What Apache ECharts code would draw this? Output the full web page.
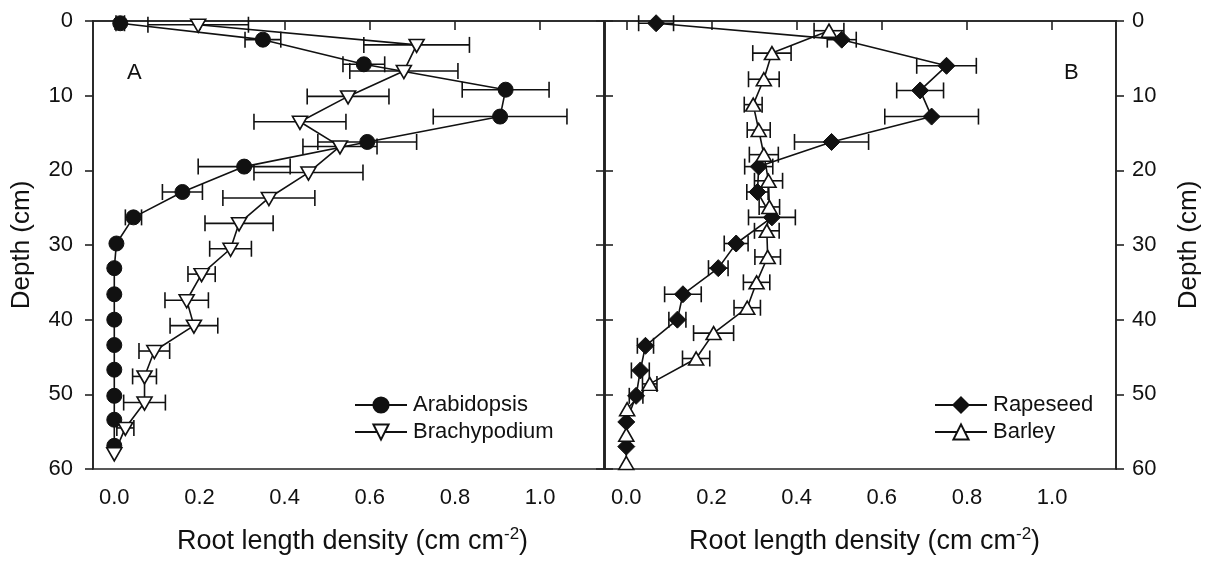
<!DOCTYPE html>
<html>
<head>
<meta charset="utf-8">
<script src="https://cdn.jsdelivr.net/npm/echarts@6/dist/echarts.min.js"></script>
<style>html,body{margin:0;padding:0;background:#fff}#c{width:1212px;height:561px}</style>
</head>
<body>
<div id="c"></div>
<script>
// ---- data ----
const xTicks = [0, 0.2, 0.4, 0.6, 0.8, 1.0];
const yTicks = [0, 10, 20, 30, 40, 50, 60];

const arabDepth = [0.3, 2.5, 5.8, 9.2, 12.8, 16.2, 19.5, 22.9, 26.3, 29.8, 33.1, 36.6, 40.0, 43.4, 46.7, 50.2, 53.4, 56.9];
const arabMean  = [0.014, 0.349, 0.586, 0.919, 0.906, 0.594, 0.305, 0.160, 0.045, 0.005, 0, 0, 0, 0, 0, 0, 0, 0];
const arabErr   = [0.01, 0.042, 0.049, 0.102, 0.157, 0.116, 0.108, 0.047, 0.019, 0, 0, 0, 0, 0, 0, 0, 0, 0];

const brachyDepth = [0.5, 3.2, 6.7, 10.1, 13.5, 16.8, 20.3, 23.7, 27.1, 30.5, 33.9, 37.4, 40.8, 44.2, 47.6, 51.1, 54.5, 57.9];
const brachyMean  = [0.197, 0.710, 0.680, 0.549, 0.436, 0.530, 0.456, 0.363, 0.293, 0.273, 0.205, 0.170, 0.187, 0.094, 0.071, 0.071, 0.026, 0.0];
const brachyErr   = [0.118, 0.124, 0.127, 0.096, 0.108, 0.087, 0.128, 0.108, 0.080, 0.049, 0.032, 0.051, 0.056, 0.036, 0.028, 0.049, 0.020, 0];

const rapeDepth = [0.3, 2.5, 6.0, 9.3, 12.8, 16.2, 19.5, 22.9, 26.3, 29.8, 33.1, 36.6, 40.0, 43.5, 46.8, 50.2, 53.7, 57.0];
const rapeMean  = [0.070, 0.506, 0.752, 0.690, 0.717, 0.482, 0.311, 0.308, 0.342, 0.258, 0.216, 0.133, 0.120, 0.045, 0.033, 0.023, 0, 0];
const rapeErr   = [0.041, 0.034, 0.070, 0.055, 0.110, 0.087, 0.033, 0.025, 0.055, 0.028, 0.023, 0.043, 0.020, 0.019, 0.021, 0.016, 0, 0];

const barleyDepth = [1.3, 4.3, 7.8, 11.2, 14.6, 17.9, 21.4, 24.9, 28.1, 31.6, 35.0, 38.4, 41.8, 45.2, 48.6, 52.0, 55.4, 59.2];
const barleyMean  = [0.476, 0.342, 0.323, 0.298, 0.311, 0.323, 0.334, 0.336, 0.330, 0.332, 0.306, 0.284, 0.205, 0.164, 0.055, 0.002, 0, 0];
const barleyErr   = [0.035, 0.045, 0.036, 0.021, 0.027, 0.034, 0.033, 0.024, 0.029, 0.030, 0.031, 0.031, 0.047, 0.032, 0.017, 0, 0, 0];

// ---- chart ----
const FONT = '"Liberation Sans", Arial, sans-serif';
const INK = '#111';
const AX = '#222';

function pts(mean, depth) { return mean.map((m, i) => [m, depth[i]]); }
function errPts(mean, depth, err) { return mean.map((m, i) => [m, depth[i], err[i]]); }

function errSeries(mean, depth, err, gi) {
  return {
    type: 'custom', xAxisIndex: gi, yAxisIndex: gi === 0 ? 0 : 3, z: 1, silent: true,
    clip: false,
    data: errPts(mean, depth, err),
    renderItem: function (params, api) {
      const x = api.value(0), y = api.value(1), e = api.value(2);
      if (!e) return null;
      const a = api.coord([x - e, y]), b = api.coord([x + e, y]);
      const h = 8;
      const st = { stroke: INK, lineWidth: 1.6 };
      return {
        type: 'group', children: [
          { type: 'line', shape: { x1: a[0], y1: a[1], x2: b[0], y2: b[1] }, style: st },
          { type: 'line', shape: { x1: a[0], y1: a[1] - h, x2: a[0], y2: a[1] + h }, style: st },
          { type: 'line', shape: { x1: b[0], y1: b[1] - h, x2: b[0], y2: b[1] + h }, style: st }
        ]
      };
    }
  };
}

function lineSeries(name, mean, depth, gi, sym) {
  return Object.assign({
    name: name, type: 'line', xAxisIndex: gi, yAxisIndex: gi === 0 ? 0 : 3, z: 3,
    data: pts(mean, depth), clip: false, showAllSymbol: true,
    lineStyle: { color: INK, width: 1.6 },
    emphasis: { disabled: true }
  }, sym);
}

function xAxis(gi) {
  return {
    type: 'value', gridIndex: gi, min: -0.05, max: 1.15, position: 'bottom',
    axisLine: { show: true, lineStyle: { color: AX, width: 1.6 } },
    axisTick: { show: true, customValues: xTicks, inside: false, length: 9, lineStyle: { color: AX, width: 1.6 } },
    axisLabel: { customValues: xTicks, formatter: v => v.toFixed(1), margin: 18, fontSize: 22, color: INK, fontFamily: FONT },
    splitLine: { show: false },
    name: 'Root length density (cm cm{sup|-2})', nameLocation: 'middle', nameGap: 57,
    nameTextStyle: {
      fontSize: 27, color: INK, fontFamily: FONT, verticalAlign: 'top', padding: [0, 0, 0, 8],
      rich: { sup: { fontSize: 17, color: INK, fontFamily: FONT, padding: [0, 0, 14, 0] } }
    }
  };
}

function yAxis(gi, pos, labels, inside) {
  const o = {
    type: 'value', gridIndex: gi, position: pos, inverse: true, min: 0, max: 60, interval: 10,
    axisLine: { show: true, onZero: false, lineStyle: { color: AX, width: 1.6 } },
    axisTick: { show: true, inside: inside, length: 8, lineStyle: { color: AX, width: 1.6 } },
    axisLabel: { show: labels, margin: pos === 'left' ? 20 : 16, fontSize: 22, color: INK, fontFamily: FONT },
    splitLine: { show: false }
  };
  if (labels) {
    o.name = 'Depth (cm)'; o.nameLocation = 'middle'; o.nameRotate = 90;
    o.nameGap = pos === 'left' ? 58 : 60;
    o.nameTextStyle = { fontSize: 26, color: INK, fontFamily: FONT };
  }
  return o;
}

const chart = echarts.init(document.getElementById('c'), null, { renderer: 'canvas' });
chart.setOption({
  animation: false,
  backgroundColor: '#fff',
  textStyle: { fontFamily: FONT },
  grid: [
    { left: 93, top: 21, width: 511, height: 448, show: true, borderColor: AX, borderWidth: 1.6, backgroundColor: 'transparent' },
    { left: 605, top: 21, width: 511, height: 448, show: true, borderColor: AX, borderWidth: 1.6, backgroundColor: 'transparent' }
  ],
  xAxis: [xAxis(0), xAxis(1)],
  yAxis: [
    yAxis(0, 'left', true, false),
    yAxis(0, 'right', false, true),
    yAxis(1, 'left', false, true),
    yAxis(1, 'right', true, false)
  ],
  legend: [
    {
      data: ['Arabidopsis', 'Brachypodium'], orient: 'vertical', left: 349, top: 389,
      itemWidth: 52, itemHeight: 19, itemGap: 5,
      textStyle: { fontSize: 22, lineHeight: 22, color: INK, fontFamily: FONT, padding: [0, 0, 0, 1] },
      selectedMode: false
    },
    {
      data: ['Rapeseed', 'Barley'], orient: 'vertical', left: 929, top: 389,
      itemWidth: 52, itemHeight: 19, itemGap: 5,
      textStyle: { fontSize: 22, lineHeight: 22, color: INK, fontFamily: FONT, padding: [0, 0, 0, 1] },
      selectedMode: false
    }
  ],
  graphic: [
    { type: 'text', left: 127, top: 62, style: { text: 'A', fontSize: 22, fill: INK, fontFamily: FONT } },
    { type: 'text', left: 1064, top: 62, style: { text: 'B', fontSize: 22, fill: INK, fontFamily: FONT } }
  ],
  series: [
    errSeries(arabMean, arabDepth, arabErr, 0),
    errSeries(brachyMean, brachyDepth, brachyErr, 0),
    errSeries(rapeMean, rapeDepth, rapeErr, 1),
    errSeries(barleyMean, barleyDepth, barleyErr, 1),
    lineSeries('Arabidopsis', arabMean, arabDepth, 0,
      { symbol: 'circle', symbolSize: 15, itemStyle: { color: INK, borderColor: INK, borderWidth: 1 } }),
    lineSeries('Brachypodium', brachyMean, brachyDepth, 0,
      { symbol: 'triangle', symbolRotate: 180, symbolSize: [15, 13], symbolOffset: [0, 1], itemStyle: { color: '#fff', borderColor: INK, borderWidth: 1.6 } }),
    lineSeries('Rapeseed', rapeMean, rapeDepth, 1,
      { symbol: 'diamond', symbolSize: 17, itemStyle: { color: INK, borderColor: INK, borderWidth: 1 } }),
    lineSeries('Barley', barleyMean, barleyDepth, 1,
      { symbol: 'triangle', symbolSize: [15, 13], itemStyle: { color: '#fff', borderColor: INK, borderWidth: 1.6 } })
  ]
});
</script>
</body>
</html>
